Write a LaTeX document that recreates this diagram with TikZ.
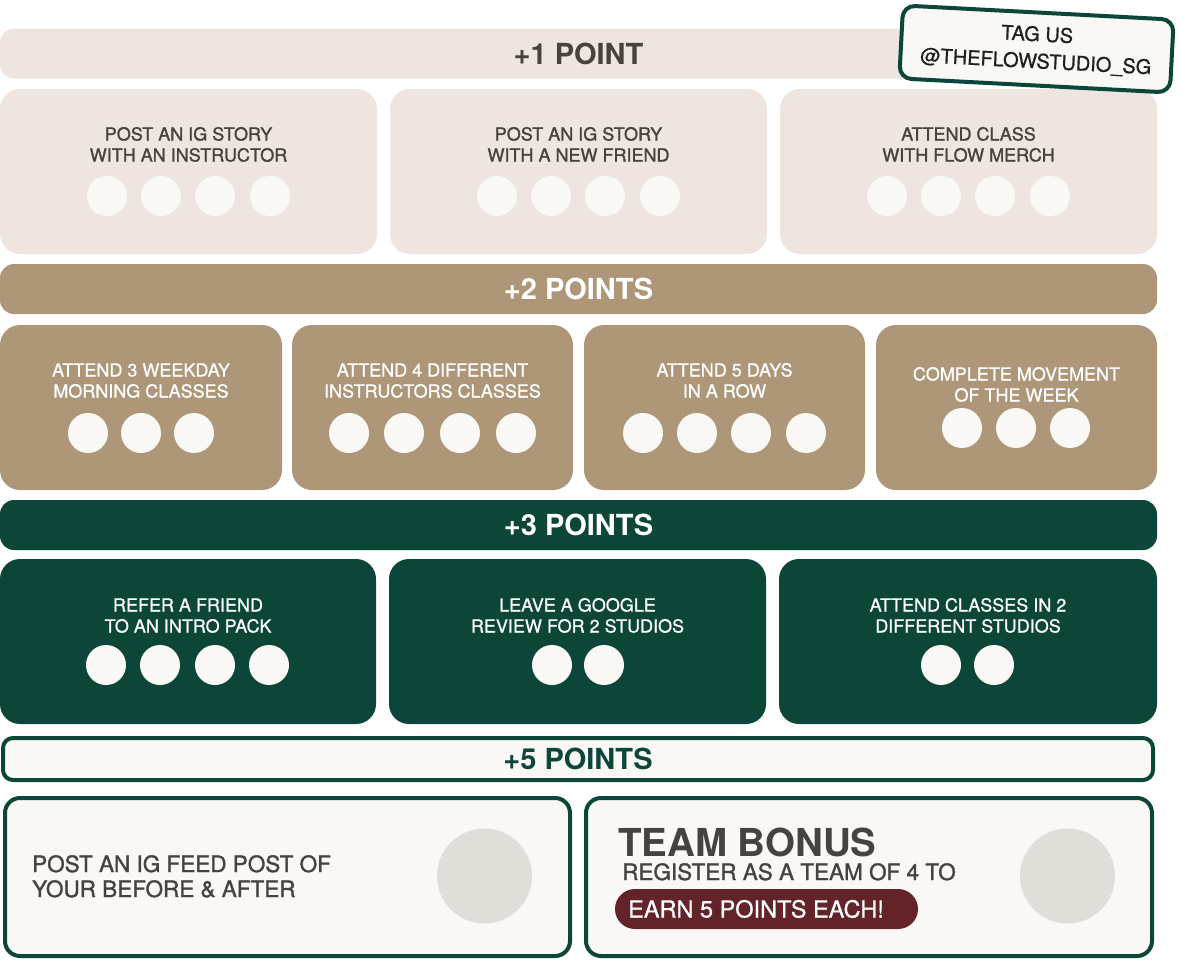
\documentclass[tikz,border=0pt]{standalone}
\usepackage{fontspec}
\setmainfont{TeX Gyre Heros}
\newfontfamily\medf{TeX Gyre Heros}[FakeBold=1.4]
\newfontfamily\lightf{TeX Gyre Heros}[FakeBold=0.8]
\definecolor{beige}{HTML}{EFE5E0}
\definecolor{tan}{HTML}{AE9778}
\definecolor{fgreen}{HTML}{0B4639}
\definecolor{offw}{HTML}{FAF8F5}
\definecolor{dtext}{HTML}{48423F}
\definecolor{gcirc}{HTML}{E1DDD8}
\definecolor{maroon}{HTML}{632328}
\begin{document}
\begin{tikzpicture}[x=1pt,y=-1pt,
  box/.style={rectangle,inner sep=0pt,outer sep=0pt,anchor=center},
  hdr/.style={box,rounded corners=14pt,minimum width=1157pt,minimum height=50pt,font=\fontsize{29}{34}\selectfont\bfseries},
  card/.style={box,rounded corners=20pt,minimum height=165pt},
  lbl/.style={align=center,inner sep=0pt,anchor=base,font=\fontsize{18}{21}\selectfont\lightf},
  dlbl/.style={lbl,text=dtext,font=\fontsize{18}{21}\selectfont\medf},
  dot/.style={circle,fill=offw,minimum size=40pt,inner sep=0pt,outer sep=0pt},
  bigdot/.style={circle,fill=gcirc,minimum size=95pt,inner sep=0pt,outer sep=0pt},
  obox/.style={box,rounded corners=15pt,draw=fgreen,line width=4pt,fill=offw},
]
\useasboundingbox (0,0) rectangle (1179,962);

% ---------- +1 row ----------
\node[hdr,fill=beige,text=dtext] (h1) at (578.5,53.5) {+1 POINT};
\node[card,fill=beige,minimum width=377pt] (a1) at (188.5,171.5) {};
\node[card,fill=beige,minimum width=377pt] (a2) at (578.5,171.5) {};
\node[card,fill=beige,minimum width=377pt] (a3) at (968.5,171.5) {};
\node[dlbl] (ta1) at (188.5,161.5) {POST AN IG STORY\\WITH AN INSTRUCTOR};
\node[dlbl] (ta2) at (578.5,161.5) {POST AN IG STORY\\WITH A NEW FRIEND};
\node[dlbl] (ta3) at (968.5,161.5) {ATTEND CLASS\\WITH FLOW MERCH};
\foreach \x [count=\i] in {107,161,215,270} \node[dot] (da1\i) at (\x,196) {};
\foreach \x [count=\i] in {497,551,605,660} \node[dot] (da2\i) at (\x,196) {};
\foreach \x [count=\i] in {887,941,995,1050} \node[dot] (da3\i) at (\x,196) {};

% ---------- +2 row ----------
\node[hdr,fill=tan,text=white] (h2) at (578.5,289) {+2 POINTS};
\node[card,fill=tan,minimum width=282pt] (b1) at (141,407.5) {};
\node[card,fill=tan,minimum width=281pt] (b2) at (432.5,407.5) {};
\node[card,fill=tan,minimum width=281pt] (b3) at (724.5,407.5) {};
\node[card,fill=tan,minimum width=281pt] (b4) at (1016.5,407.5) {};
\node[lbl,text=white] (tb1) at (141,397.5) {ATTEND 3 WEEKDAY\\MORNING CLASSES};
\node[lbl,text=white] (tb2) at (432.5,397.5) {ATTEND 4 DIFFERENT\\INSTRUCTORS CLASSES};
\node[lbl,text=white] (tb3) at (724.5,397.5) {ATTEND 5 DAYS\\IN A ROW};
\node[lbl,text=white] (tb4) at (1016.5,401.5) {COMPLETE MOVEMENT\\OF THE WEEK};
\foreach \x [count=\i] in {88,141,194} \node[dot] (db1\i) at (\x,433) {};
\foreach \x [count=\i] in {349,404,460,516} \node[dot] (db2\i) at (\x,433) {};
\foreach \x [count=\i] in {643,697,751,806} \node[dot] (db3\i) at (\x,433) {};
\foreach \x [count=\i] in {962,1016,1070} \node[dot] (db4\i) at (\x,428) {};

% ---------- +3 row ----------
\node[hdr,fill=fgreen,text=white] (h3) at (578.5,525) {+3 POINTS};
\node[card,fill=fgreen,minimum width=376pt] (c1) at (188,641.5) {};
\node[card,fill=fgreen,minimum width=377pt] (c2) at (577.5,641.5) {};
\node[card,fill=fgreen,minimum width=378pt] (c3) at (968,641.5) {};
\node[lbl,text=white] (tc1) at (188,632.5) {REFER A FRIEND\\TO AN INTRO PACK};
\node[lbl,text=white] (tc2) at (577.5,632.5) {LEAVE A GOOGLE\\REVIEW FOR 2 STUDIOS};
\node[lbl,text=white] (tc3) at (968,632.5) {ATTEND CLASSES IN 2\\DIFFERENT STUDIOS};
\foreach \x [count=\i] in {106,160,215,269} \node[dot] (dc1\i) at (\x,665) {};
\foreach \x [count=\i] in {552,604} \node[dot] (dc2\i) at (\x,665) {};
\foreach \x [count=\i] in {941,994} \node[dot] (dc3\i) at (\x,665) {};

% ---------- +5 row ----------
\node[obox,rounded corners=10pt,minimum width=1150pt,minimum height=42pt,text=fgreen,font=\fontsize{29}{34}\selectfont\bfseries] (h5) at (578,759) {+5 POINTS};
\node[obox,minimum width=565pt,minimum height=158pt] (e1) at (287.5,877) {};
\node[obox,minimum width=566pt,minimum height=158pt] (e2) at (869,877) {};
\node[align=left,inner sep=0pt,anchor=base west,text=dtext,font=\fontsize{22.5}{25}\selectfont\medf] (te1) at (32,897) {POST AN IG FEED POST OF\\YOUR BEFORE \& AFTER};
\node[bigdot] (g1) at (484.5,876) {};
\node[inner sep=0pt,anchor=base west,text=dtext,font=\fontsize{38.5}{40}\selectfont\bfseries] (te2) at (618,856.5) {TEAM BONUS};
\node[inner sep=0pt,anchor=base west,text=dtext,font=\fontsize{22.5}{25}\selectfont\medf] (te3) at (622,880) {REGISTER AS A TEAM OF 4 TO};
\node[box,fill=maroon,rounded corners=20pt,minimum width=303pt,minimum height=40pt] (pill) at (766.5,909) {};
\node[inner sep=0pt,anchor=base west,text=white,font=\fontsize{23.5}{26}\selectfont\lightf] (te4) at (628,917.5) {EARN 5 POINTS EACH!};
\node[bigdot] (g2) at (1067.5,876) {};

% ---------- tag ----------
\node[box,rotate=-3,draw=fgreen,line width=4pt,fill=offw,rounded corners=12pt,minimum width=271pt,minimum height=73pt,align=center,text=black!88,font=\fontsize{20}{27}\selectfont\lightf] (tag) at (1036.5,49) {TAG US\\@THEFLOWSTUDIO\_SG};
\end{tikzpicture}
\end{document}
